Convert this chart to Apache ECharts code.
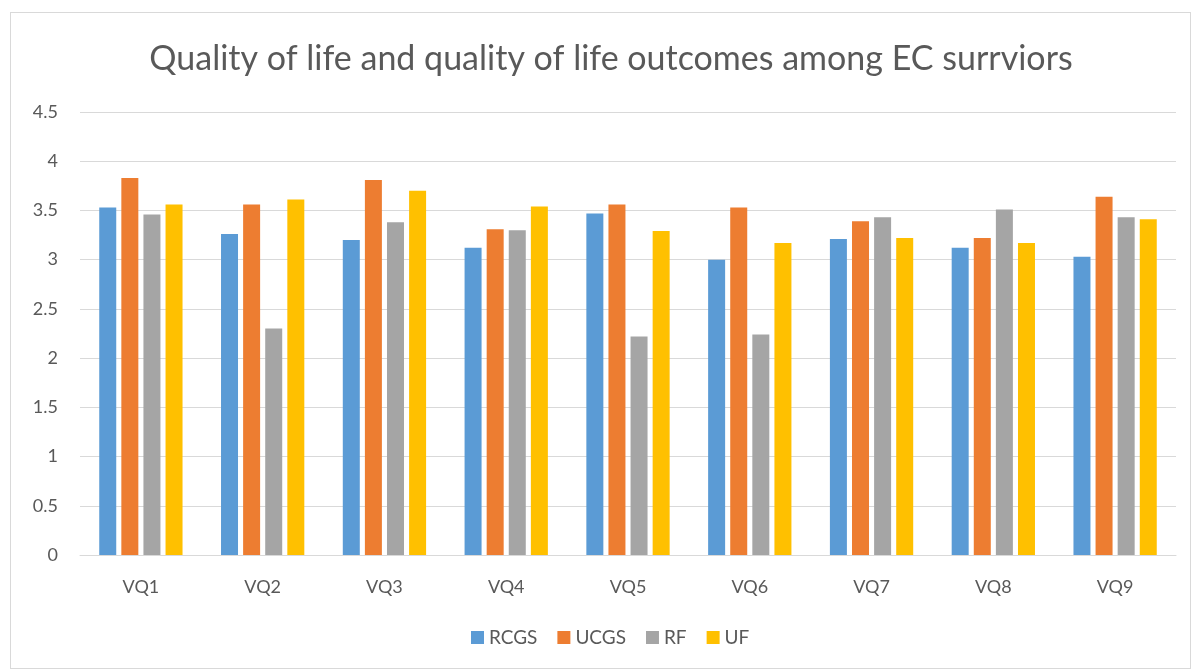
<!DOCTYPE html>
<html lang="en">
<head>
    <meta charset="utf-8">
    <title>Quality of life outcomes</title>
    <style>
        html, body { margin: 0; padding: 0; background: #fff; }
        #frame { position: absolute; left: 10px; top: 12px; width: 1179px; height: 655px; border: 1px solid #d9d9d9; }
        #chart { position: absolute; left: 0; top: 0; width: 1194px; height: 671px; }
    </style>
</head>
<body>
<div id="frame"></div>
<div id="chart"></div>
<script src="https://cdn.jsdelivr.net/npm/echarts@6/dist/echarts.min.js"></script>
<script type="text/javascript">

var categories = ['VQ1', 'VQ2', 'VQ3', 'VQ4', 'VQ5', 'VQ6', 'VQ7', 'VQ8', 'VQ9'];
var rcgs = [3.53, 3.26, 3.20, 3.12, 3.47, 3.00, 3.21, 3.12, 3.03];
var ucgs = [3.83, 3.56, 3.81, 3.31, 3.56, 3.53, 3.39, 3.22, 3.64];
var rf   = [3.46, 2.30, 3.38, 3.30, 2.22, 2.24, 3.43, 3.51, 3.43];
var uf   = [3.56, 3.61, 3.70, 3.54, 3.29, 3.17, 3.22, 3.17, 3.41];

var seriesNames = ['RCGS', 'UCGS', 'RF', 'UF'];
var seriesColors = ['#5b9bd5', '#ed7d31', '#a5a5a5', '#ffc000'];
var seriesData = [rcgs, ucgs, rf, uf];

var font = 'Lato, Carlito, Calibri, sans-serif';

var chart = echarts.init(document.getElementById('chart'));
chart.setOption({
    animation: false,
    textStyle: { fontFamily: font },
    title: {
        text: 'Quality of life and quality of life outcomes among EC surrviors',
        left: 606,
        textAlign: 'center',
        top: 37,
        textStyle: { fontSize: 34, fontWeight: 'normal', color: '#595959', fontFamily: font }
    },
    legend: {
        bottom: 19,
        left: 466,
        itemWidth: 13,
        itemHeight: 13,
        itemGap: 20,
        icon: 'rect',
        textStyle: { fontSize: 19, color: '#595959', fontFamily: font }
    },
    grid: { left: 80, right: 18, top: 112, bottom: 116 },
    xAxis: {
        type: 'category',
        data: categories,
        axisTick: { show: false },
        axisLine: { lineStyle: { color: '#d9d9d9', width: 1 } },
        axisLabel: { fontSize: 18, color: '#595959', margin: 23, fontFamily: font }
    },
    yAxis: {
        type: 'value',
        min: 0,
        max: 4.5,
        interval: 0.5,
        axisLine: { show: false },
        axisTick: { show: false },
        splitLine: { lineStyle: { color: '#d9d9d9', width: 1 } },
        axisLabel: { fontSize: 18, color: '#595959', margin: 22, align: 'right', fontFamily: font }
    },
    series: seriesNames.map(function (name, i) {
        return {
            name: name,
            type: 'bar',
            data: seriesData[i],
            barWidth: 17,
            barGap: '30%',
            itemStyle: { color: seriesColors[i] }
        };
    })
});

</script>
</body>
</html>
